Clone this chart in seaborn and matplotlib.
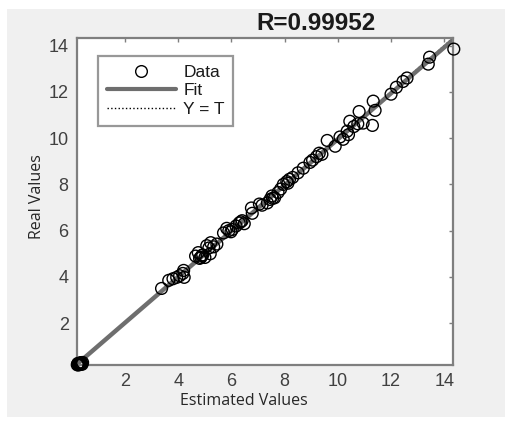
import numpy as np
import pandas as pd
import matplotlib
matplotlib.use("Agg")
import matplotlib.pyplot as plt
import seaborn as sns
from matplotlib.lines import Line2D
from matplotlib.patches import Rectangle

# ---- data ----
estimated = [0.20, 0.22, 0.25, 0.28, 0.30, 0.33, 0.36, 0.40, 0.24, 0.31,
             0.27, 0.35, 0.23, 0.38,
             3.37, 3.64, 3.80, 3.94, 4.17, 4.20, 4.22, 4.05,
             4.65, 4.75, 4.85, 4.92, 5.00, 5.20, 4.80, 4.88,
             5.07, 5.22, 5.33, 5.45, 5.15,
             5.70, 5.82, 5.98, 6.03, 5.90,
             6.17, 6.29, 6.40, 6.48, 6.35,
             6.75, 6.78, 7.05, 7.15,
             7.35, 7.45, 7.52, 7.62, 7.75, 7.85, 7.55,
             7.95, 8.08, 8.18, 8.30, 8.12,
             8.50, 8.70,
             8.95, 9.05, 9.20, 9.30, 9.40,
             9.60, 9.90,
             10.08, 10.20, 10.35, 10.40,
             10.60, 10.75, 10.95,
             11.30,
             10.45, 10.80, 11.40, 11.33,
             12.00, 12.20, 12.45, 12.60,
             13.40, 13.45, 14.36]
real = [0.20, 0.24, 0.22, 0.26, 0.21, 0.28, 0.25, 0.30, 0.19, 0.27,
        0.23, 0.29, 0.26, 0.22,
        3.50, 3.85, 3.92, 3.98, 4.15, 4.28, 3.98, 4.05,
        4.90, 5.05, 4.84, 4.95, 4.84, 5.00, 4.80, 4.92,
        5.35, 5.48, 5.30, 5.42, 5.25,
        5.90, 6.10, 5.95, 6.05, 6.00,
        6.20, 6.33, 6.43, 6.30, 6.38,
        6.98, 6.75, 7.15, 7.10,
        7.20, 7.35, 7.50, 7.42, 7.65, 7.80, 7.40,
        8.00, 8.12, 8.22, 8.30, 8.05,
        8.50, 8.70,
        8.95, 9.05, 9.20, 9.35, 9.30,
        9.90, 9.65,
        10.05, 9.95, 10.30, 10.15,
        10.50, 10.62, 10.65,
        10.55,
        10.73, 11.15, 11.20, 11.60,
        11.90, 12.20, 12.45, 12.60,
        13.20, 13.50, 13.85]
ticks = [2, 4, 6, 8, 10, 12, 14]
title_text = "R=0.99952"
legend_labels = ["Data", "Fit", "Y = T"]

df = pd.DataFrame({"Estimated": estimated, "Real": real})
lo = min(df["Estimated"].min(), df["Real"].min())
hi = max(df["Estimated"].max(), df["Real"].max())
ident = pd.DataFrame({"T": [lo, hi]})

sns.set_style("white")
plt.rcParams["font.family"] = ["Liberation Sans", "DejaVu Sans"]

fig = plt.figure(figsize=(5.11, 4.23), dpi=100)
fig.patch.set_facecolor("white")
fig.patches.append(Rectangle((7 / 511, 1 - 417 / 423), 498 / 511, 408 / 423,
                             transform=fig.transFigure, facecolor="#f0f0f0",
                             edgecolor="none", zorder=-10))
ax = fig.add_axes([77 / 511, 1 - 365 / 423, 376 / 511, 327 / 423])
ax.set_facecolor("white")

# Y = T reference line
sns.lineplot(data=ident, x="T", y="T", ax=ax, color="black", lw=1,
             linestyle=":", zorder=1)
# Fit line
sns.regplot(data=df, x="Estimated", y="Real", ax=ax, scatter=False, ci=None,
            truncate=True, line_kws=dict(color="#6e6e6e", lw=3.2, zorder=2))
# Data
sns.scatterplot(data=df, x="Estimated", y="Real", ax=ax, marker="o", s=72,
                facecolor="none", edgecolor="black", linewidth=1.0, zorder=3,
                clip_on=False)

ax.set_xlim(lo, 14.33)
ax.set_ylim(lo, 14.33)
ax.set_xticks(ticks)
ax.set_yticks(ticks)
ax.tick_params(direction="in", length=3, width=1, color="#7f7f7f",
               top=True, right=True, labelsize=13, labelcolor="#404040", pad=6)
for sp in ax.spines.values():
    sp.set_visible(True)
    sp.set_color("#7f7f7f")
    sp.set_linewidth(1.6)

ax.set_xlabel("Estimated Values", fontsize=11.5, color="#262626",
              family=["Open Sans", "DejaVu Sans"])
ax.set_ylabel("Real Values", fontsize=11.5, color="#262626",
              family=["Open Sans", "DejaVu Sans"])
ax.xaxis.set_label_coords(0.444, -0.085)
ax.yaxis.set_label_coords(-0.085, 0.514)

fig.text(316 / 511, 1 - 23 / 423, title_text, ha="center", va="center",
         fontsize=17.5, fontweight="bold", color="#1a1a1a")

handles = [Line2D([], [], marker="o", linestyle="none", markerfacecolor="none",
                  markeredgecolor="black", markersize=8.4, markeredgewidth=1),
           Line2D([], [], color="#6e6e6e", lw=3),
           Line2D([], [], color="black", lw=1, linestyle=":")]
leg = ax.legend(handles, legend_labels, loc="upper left",
                bbox_to_anchor=(0.056, 0.945), borderaxespad=0, fontsize=12.5,
                frameon=True, fancybox=False, edgecolor="#7f7f7f",
                handlelength=4.0, handletextpad=0.4, labelspacing=0.2,
                borderpad=0.5, numpoints=1)
leg.get_frame().set_linewidth(1.6)
for t in leg.get_texts():
    t.set_color("#1a1a1a")

fig.savefig("out.png", dpi=100)
